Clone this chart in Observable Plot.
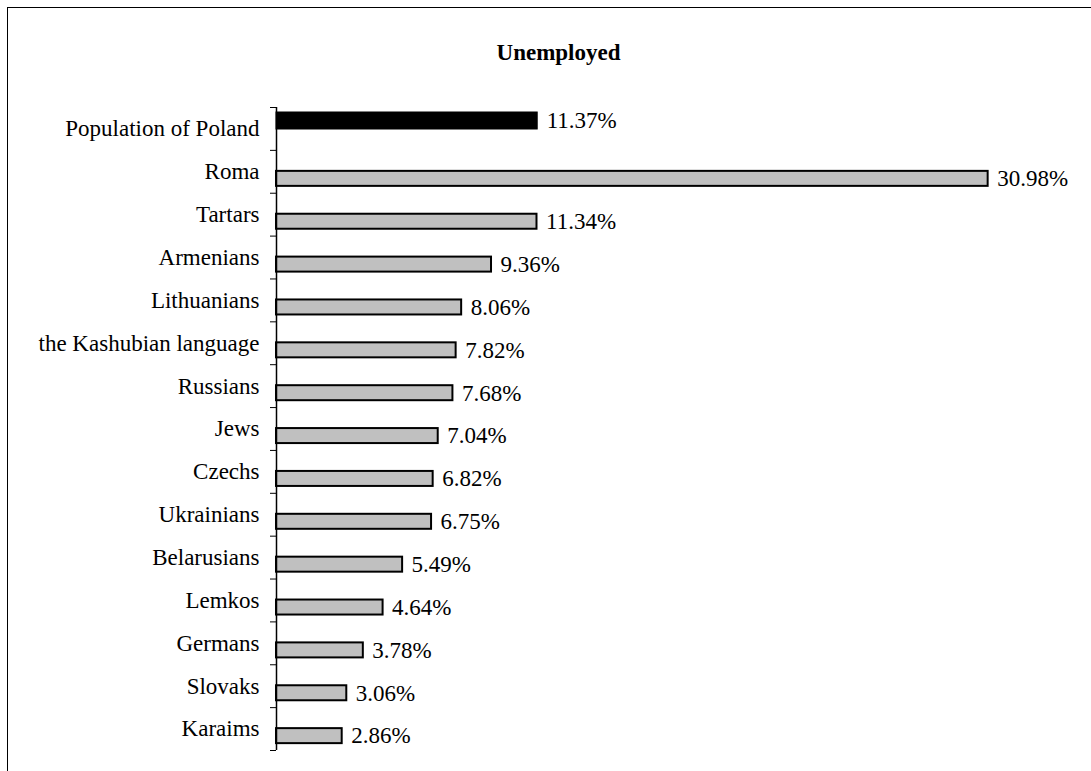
<!DOCTYPE html>
<html>
<head>
<meta charset="utf-8">
<script src="https://cdn.jsdelivr.net/npm/d3@7"></script>
<script src="https://cdn.jsdelivr.net/npm/@observablehq/plot@0.6"></script>
<style>
  html, body { margin: 0; padding: 0; background: #fff; }
  #wrap { position: relative; width: 1091px; height: 771px; overflow: hidden; }
  #frame { position: absolute; left: 7px; top: 7px; width: 2000px; height: 2000px;
           border-top: 1px solid #000; border-left: 1px solid #000; pointer-events: none; }
</style>
</head>
<body>
<div id="wrap"><div id="frame"></div></div>
<script>
const title = "Unemployed";
const categories = [
  "Population of Poland", "Roma", "Tartars", "Armenians", "Lithuanians",
  "the Kashubian language", "Russians", "Jews", "Czechs", "Ukrainians",
  "Belarusians", "Lemkos", "Germans", "Slovaks", "Karaims"
];
const values = [11.37, 30.98, 11.34, 9.36, 8.06, 7.82, 7.68, 7.04, 6.82, 6.75, 5.49, 4.64, 3.78, 3.06, 2.86];
const labels = ["11.37%", "30.98%", "11.34%", "9.36%", "8.06%", "7.82%", "7.68%", "7.04%", "6.82%", "6.75%", "5.49%", "4.64%", "3.78%", "3.06%", "2.86%"];

const rows = categories.map((c, i) => ({category: c, value: values[i], label: labels[i], total: i === 0}));
const totalRows = rows.filter(d => d.total);
const groupRows = rows.filter(d => !d.total);

const W = 1091, H = 771, mT = 107, mB = 21, mL = 276, mR = 11;
const step = (H - mT - mB) / categories.length;

const chart = Plot.plot({
  width: W, height: H,
  marginTop: mT, marginBottom: mB, marginLeft: mL, marginRight: mR,
  style: {fontFamily: "'Liberation Serif', 'Times New Roman', serif", fontSize: "23px", color: "#000", background: "transparent"},
  x: {domain: [0, 35], axis: null},
  y: {domain: categories, padding: 0, round: false, label: null},
  marks: [
    Plot.barX(totalRows, {x: "value", y: "category", fill: "#000", stroke: "#000", strokeWidth: 1, insetTop: 5, insetBottom: step - 22}),
    Plot.barX(groupRows, {x: "value", y: "category", fill: "#c0c0c0", stroke: "#000", strokeWidth: 2, insetTop: 21, insetBottom: step - 36}),
    Plot.text(totalRows, {x: "value", y: "category", text: "label", textAnchor: "start", dx: 9, dy: -8, fill: "#000"}),
    Plot.text(groupRows, {x: "value", y: "category", text: "label", textAnchor: "start", dx: 9, dy: 7, fill: "#000"}),
    Plot.ruleX([0], {stroke: "#000", strokeWidth: 1.5}),
    Plot.ruleY(categories, {y: d => d, x1: 0, x2: 0, insetLeft: -6, dy: -step / 2, stroke: "#000"}),
    Plot.ruleY(categories.slice(-1), {y: d => d, x1: 0, x2: 0, insetLeft: -6, dy: step / 2, stroke: "#000"}),
    Plot.axisY({tickSize: 0, tickPadding: 17, fontSize: 23, fill: "#000"}),
    Plot.text([title], {frameAnchor: "top-left", lineAnchor: "middle", dx: 558 - mL, dy: 52.6 - mT, textAnchor: "middle", fontWeight: "bold", fontSize: 23, fill: "#000"})
  ]
});
document.getElementById("wrap").prepend(chart);
</script>
</body>
</html>
